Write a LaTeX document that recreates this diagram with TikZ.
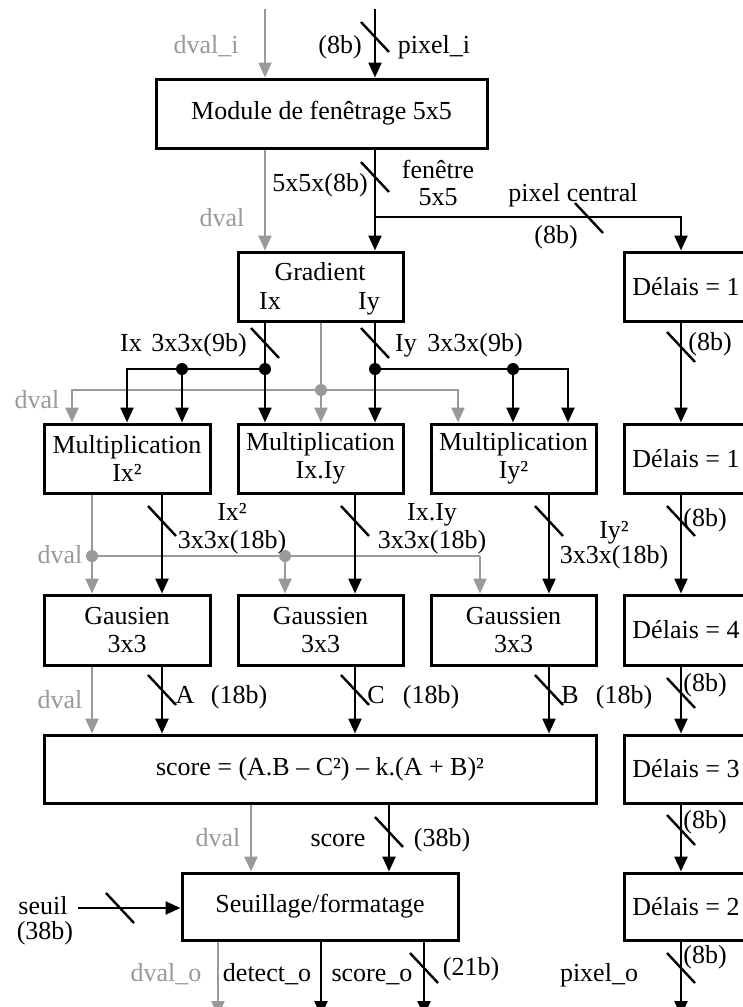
\documentclass[tikz,border=0pt]{standalone}
\usepackage{fontspec}
\setmainfont{Liberation Serif}
\usetikzlibrary{arrows.meta}
\definecolor{dgray}{gray}{0.6}
\tikzset{
 blk/.style={draw, line width=3pt, inner sep=0pt, align=center, font=\fontsize{26}{28}\selectfont},
 arr/.style={line width=2.4pt, -{Triangle[length=15pt,width=13pt]}},
 garr/.style={arr, draw=dgray},
 wire/.style={line width=2.4pt},
 gwire/.style={wire, draw=dgray},
 busmark/.style={line width=2.4pt},
 lbl/.style={inner sep=0pt, text height=20pt, text depth=4pt, font=\fontsize{26}{28}\selectfont},
 glbl/.style={lbl, text=dgray},
 jdot/.style={circle, fill=black, inner sep=0pt, minimum size=12pt},
 gjdot/.style={jdot, fill=dgray}
}
\newcommand\busmk[1]{\draw[busmark, shift={(#1)}] (-14,-15) -- (14,15);}
\begin{document}
\begin{tikzpicture}[x=1pt,y=-1pt]
\useasboundingbox (0,0) rectangle (742,1007);
% boxes
\node[blk, minimum width=331pt, minimum height=69pt] (mod) at (321.5,113.5) {Module de fenêtrage 5x5};
\node[blk, minimum width=165pt, minimum height=69pt] (grad) at (320.5,286.5) {};
\node[lbl] (gradt) at (320,272) {Gradient};
\node[lbl] (gix) at (270,301) {Ix};
\node[lbl] (giy) at (369,301) {Iy};
\node[blk, minimum width=124pt, minimum height=69pt] (d1) at (686,286.5) {Délais = 1};
\node[blk, minimum width=166pt, minimum height=69pt] (m1) at (127,458.5) {Multiplication\\Ix²};
\node[blk, minimum width=165pt, minimum height=69pt] (m2) at (320.5,458.5) {Multiplication\\Ix.Iy};
\node[blk, minimum width=165pt, minimum height=69pt] (m3) at (513.5,458.5) {Multiplication\\Iy²};
\node[blk, minimum width=124pt, minimum height=69pt] (d2) at (686,458.5) {Délais = 1};
\node[blk, minimum width=166pt, minimum height=70pt] (g1) at (127,630) {Gausien\\3x3};
\node[blk, minimum width=165pt, minimum height=70pt] (g2) at (320.5,630) {Gaussien\\3x3};
\node[blk, minimum width=165pt, minimum height=70pt] (g3) at (513.5,630) {Gaussien\\3x3};
\node[blk, minimum width=124pt, minimum height=70pt] (d3) at (686,630) {Délais = 4};
\node[blk, minimum width=552pt, minimum height=68pt] (score) at (320,769) {score = (A.B – C²) – k.(A + B)²};
\node[blk, minimum width=124pt, minimum height=68pt] (d4) at (686,769) {Délais = 3};
\node[blk, minimum width=276pt, minimum height=67pt] (seu) at (320,906.5) {Seuillage/formatage};
\node[blk, minimum width=124pt, minimum height=67pt] (d5) at (686,906.5) {Délais = 2};
% coordinates
\coordinate (in1) at (265,9);
\coordinate (in2) at (375,9);
\coordinate (jb) at (375,217);
\coordinate (rc) at (681,217);
\coordinate (jx) at (265,369);
\coordinate (ax1) at (127,369);
\coordinate (ax2) at (182,369);
\coordinate (jy) at (375,369);
\coordinate (ay1) at (513,369);
\coordinate (ay2) at (568,369);
\coordinate (jg) at (321,390);
\coordinate (ag1) at (72,390);
\coordinate (ag2) at (458,390);
\coordinate (k1) at (92,556);
\coordinate (k2) at (285,556);
\coordinate (k3) at (480,556);
\coordinate (b1) at (162,521);
\coordinate (b2) at (355,521);
\coordinate (b3) at (549,521);
\coordinate (e1) at (162,690);
\coordinate (e2) at (355,690);
\coordinate (e3) at (549,690);
\coordinate (f1) at (251,838);
\coordinate (f2) at (389,832);
\coordinate (sin) at (78,908);
\coordinate (sb) at (120,908);
\coordinate (o1) at (218,1016);
\coordinate (o2) at (321,1016);
\coordinate (o3) at (424,1016);
\coordinate (o4) at (681,1016);
% inputs
\draw[garr] (in1) -- (in1 |- mod.north);
\draw[arr] (in2) -- (in2 |- mod.north);
\busmk{375,37}
% module -> gradient
\draw[garr] (mod.south -| in1) -- (grad.north -| in1);
\draw[arr] (mod.south -| in2) -- (grad.north -| in2);
\busmk{375,177}
\draw[arr] (jb) -- (rc) -- (rc |- d1.north);
\busmk{589,218}
% gray dval to multipliers
\draw[gwire] (grad.south -| jg) -- (jg);
\draw[garr] (jg) -- (m2.north -| jg);
\draw[garr] (jg) -- (ag1) -- (m1.north -| ag1);
\draw[garr] (jg) -- (ag2) -- (m3.north -| ag2);
\node[gjdot] (dg) at (jg) {};
% Ix
\draw[arr] (grad.south -| jx) -- (m2.north -| jx);
\draw[arr] (jx) -- (ax1) -- (m1.north -| ax1);
\draw[arr] (ax2) -- (m1.north -| ax2);
\node[jdot] (dx1) at (jx) {};
\node[jdot] (dx2) at (ax2) {};
\busmk{265,343}
% Iy
\draw[arr] (grad.south -| jy) -- (m2.north -| jy);
\draw[arr] (jy) -- (ay2) -- (m3.north -| ay2);
\draw[arr] (ay1) -- (m3.north -| ay1);
\node[jdot] (dy1) at (jy) {};
\node[jdot] (dy2) at (ay1) {};
\busmk{375,343}
% mult -> gauss
\draw[garr] (m1.south -| k1) -- (g1.north -| k1);
\draw[gwire] (k1) -- (k3);
\draw[garr] (k3) -- (g3.north -| k3);
\draw[garr] (k2) -- (g2.north -| k2);
\node[gjdot] (dk1) at (k1) {};
\node[gjdot] (dk2) at (k2) {};
\draw[arr] (m1.south -| b1) -- (g1.north -| b1);
\draw[arr] (m2.south -| b2) -- (g2.north -| b2);
\draw[arr] (m3.south -| b3) -- (g3.north -| b3);
\busmk{b1}\busmk{b2}\busmk{b3}
% gauss -> score
\draw[garr] (g1.south -| k1) -- (score.north -| k1);
\draw[arr] (g1.south -| e1) -- (score.north -| e1);
\draw[arr] (g2.south -| e2) -- (score.north -| e2);
\draw[arr] (g3.south -| e3) -- (score.north -| e3);
\busmk{e1}\busmk{e2}\busmk{e3}
% score -> seuillage
\draw[garr] (score.south -| f1) -- (seu.north -| f1);
\draw[arr] (score.south -| f2) -- (seu.north -| f2);
\busmk{f2}
\draw[arr] (sin) -- (sin -| seu.west);
\busmk{sb}
% outputs
\draw[garr] (seu.south -| o1) -- (o1);
\draw[arr] (seu.south -| o2) -- (o2);
\draw[arr] (seu.south -| o3) -- (o3);
\busmk{424,968}
% right column
\draw[arr] (d1.south -| rc) -- (d2.north -| rc);
\draw[arr] (d2.south -| rc) -- (d3.north -| rc);
\draw[arr] (d3.south -| rc) -- (d4.north -| rc);
\draw[arr] (d4.south -| rc) -- (d5.north -| rc);
\draw[arr] (d5.south -| rc) -- (o4);
\busmk{681,347}\busmk{681,521}\busmk{681,693}\busmk{681,830}\busmk{681,968}
% labels
\node[glbl] (l1) at (206,45) {dval\_i};
\node[lbl] (l2) at (340,45) {(8b)};
\node[lbl] (l3) at (434,45) {pixel\_i};
\node[lbl] (l4) at (320,183) {5x5x(8b)};
\node[lbl] (l5) at (438,170) {fenêtre};
\node[lbl] (l6) at (438,197) {5x5};
\node[glbl] (l7) at (222,218) {dval};
\node[lbl] (l8) at (573,193) {pixel central};
\node[lbl] (l9) at (556,235) {(8b)};
\node[lbl] (l10) at (131,343) {Ix};
\node[lbl] (l11) at (199,343) {3x3x(9b)};
\node[lbl] (l12) at (406,343) {Iy};
\node[lbl] (l13) at (475,343) {3x3x(9b)};
\node[lbl] (l14) at (710,342) {(8b)};
\node[glbl] (l15) at (37,400) {dval};
\node[lbl] (l16) at (232,512) {Ix²};
\node[lbl] (l17) at (232,540) {3x3x(18b)};
\node[lbl] (l18) at (432,512) {Ix.Iy};
\node[lbl] (l19) at (432,540) {3x3x(18b)};
\node[lbl] (l20) at (614,530) {Iy²};
\node[lbl] (l21) at (614,555) {3x3x(18b)};
\node[lbl] (l22) at (705,518) {(8b)};
\node[glbl] (l23) at (60,555) {dval};
\node[lbl] (l24) at (185,695) {A};
\node[lbl] (l25) at (239,695) {(18b)};
\node[lbl] (l26) at (376,695) {C};
\node[lbl] (l27) at (431,695) {(18b)};
\node[lbl] (l28) at (570,695) {B};
\node[lbl] (l29) at (624,695) {(18b)};
\node[lbl] (l30) at (705,683) {(8b)};
\node[glbl] (l31) at (60,700) {dval};
\node[glbl] (l32) at (218,838) {dval};
\node[lbl] (l33) at (338,838) {score};
\node[lbl] (l34) at (442,838) {(38b)};
\node[lbl] (l35) at (705,820) {(8b)};
\node[lbl] (l36) at (43,906) {seuil};
\node[lbl] (l37) at (45,931) {(38b)};
\node[glbl] (l38) at (166,973) {dval\_o};
\node[lbl] (l39) at (267,973) {detect\_o};
\node[lbl] (l40) at (372,973) {score\_o};
\node[lbl] (l41) at (471,967) {(21b)};
\node[lbl] (l42) at (599,973) {pixel\_o};
\node[lbl] (l43) at (705,955) {(8b)};
\end{tikzpicture}
\end{document}
